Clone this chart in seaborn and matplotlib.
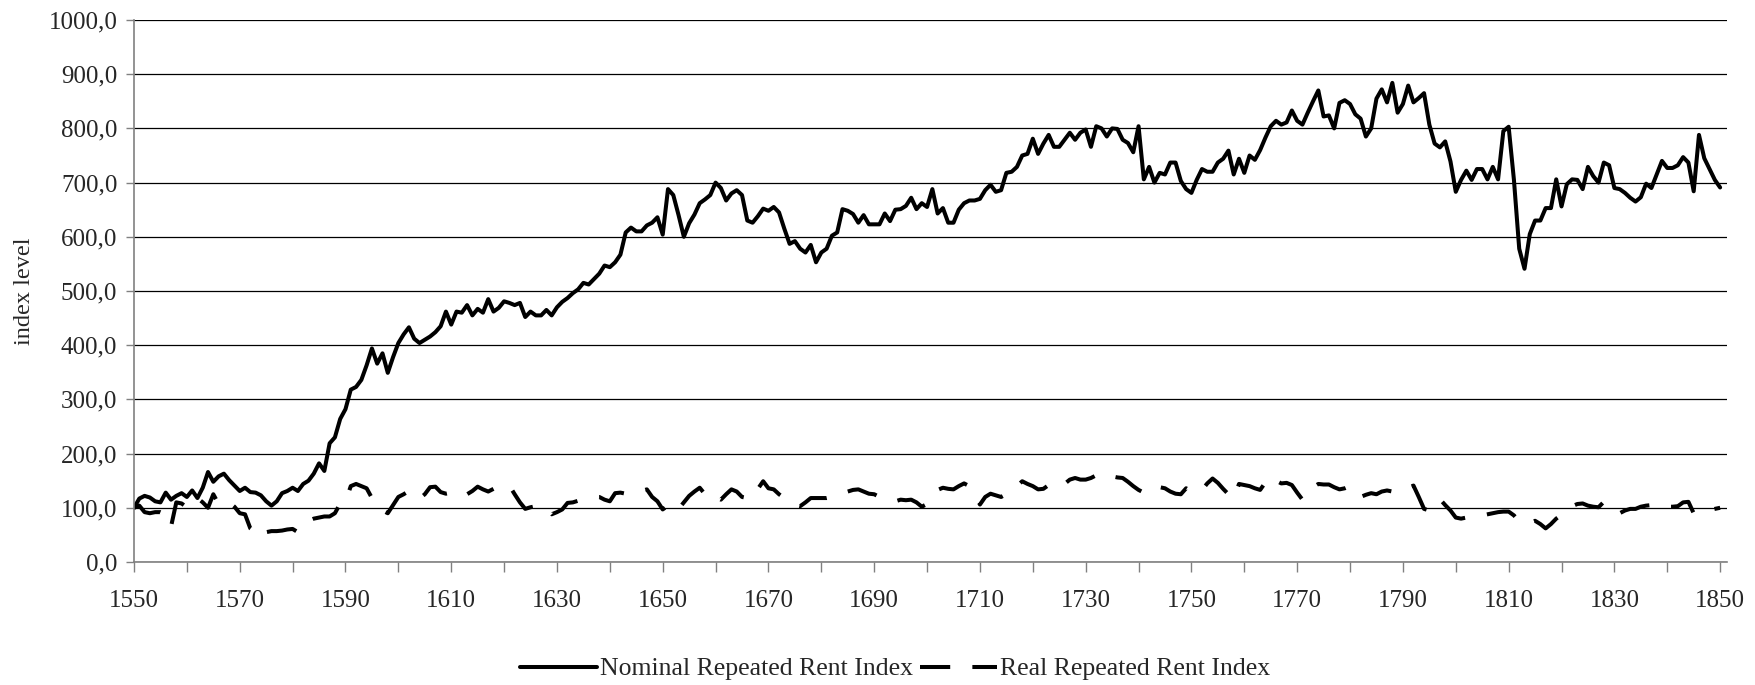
import matplotlib

matplotlib.use("Agg")
import matplotlib.pyplot as plt
import numpy as np
import pandas as pd
import seaborn as sns
from matplotlib.ticker import FixedLocator, FuncFormatter, MultipleLocator

# yearly index levels, 1550 = 100
years = list(range(1550, 1851))

nominal = [
    100, 117, 122, 119, 112, 110, 128, 115, 122, 127,
    120, 132, 118, 137, 166, 148, 158, 163, 151, 141,
    131, 137, 129, 128, 123, 112, 104, 112, 127, 131,
    137, 131, 144, 150, 163, 182, 168, 219, 230, 264,
    282, 318, 323, 336, 363, 394, 366, 385, 349, 378,
    404, 420, 433, 412, 404, 410, 416, 424, 435, 462,
    438, 462, 460, 474, 455, 467, 460, 485, 462, 469,
    481, 478, 474, 478, 452, 462, 455, 455, 465, 455,
    470, 480, 487, 496, 503, 515, 512, 522, 532, 547,
    544, 553, 567, 608, 617, 610, 610, 621, 626, 636,
    604, 688, 677, 640, 600, 625, 641, 662, 669, 677,
    700, 690, 667, 680, 686, 677, 630, 626, 638, 652,
    648, 655, 645, 615, 587, 592, 578, 571, 585, 553,
    571, 578, 602, 608, 651, 648, 642, 626, 640, 623,
    623, 623, 643, 629, 650, 651, 657, 672, 651, 662,
    655, 688, 643, 653, 626, 626, 650, 662, 667, 667,
    670, 686, 696, 683, 686, 718, 720, 729, 750, 753,
    781, 753, 772, 788, 766, 766, 779, 792, 779, 792,
    798, 766, 804, 800, 785, 800, 799, 779, 773, 756,
    804, 706, 729, 700, 718, 715, 737, 737, 703, 688,
    681, 705, 725, 720, 720, 737, 744, 759, 715, 744,
    718, 750, 742, 760, 783, 804, 814, 807, 811, 833,
    814, 807, 829, 850, 870, 822, 824, 800, 847, 852,
    845, 826, 818, 785, 800, 855, 872, 848, 884, 829,
    845, 879, 848, 856, 865, 807, 772, 765, 776, 739,
    683, 705, 722, 705, 725, 725, 706, 729, 706, 795,
    803, 705, 578, 541, 605, 630, 630, 653, 653, 706,
    656, 697, 706, 705, 688, 729, 712, 700, 737, 732,
    690, 688, 681, 672, 665, 673, 698, 690, 715, 740,
    727, 727, 732, 747, 737, 684, 788, 745, 725, 705,
    691,
]

real = [
    100, 104, 92, 90, 92, 92, 88, 65, 110, 108,
    101, 112, 118, 110, 100, 125, 107, 110, 110, 102,
    90, 88, 62, 55, 45, 55, 57, 57, 58, 60,
    61, 55, 68, 76, 80, 82, 84, 84, 90, 108,
    111, 140, 144, 140, 136, 118, 105, 95, 90, 105,
    120, 125, 131, 120, 117, 125, 138, 139, 129, 126,
    128, 131, 124, 125, 131, 139, 134, 130, 135, 136,
    138, 141, 125, 110, 98, 101, 103, 104, 98, 88,
    92, 97, 109, 110, 113, 116, 118, 120, 120, 115,
    112, 127, 128, 126, 125, 128, 131, 134, 120, 112,
    97, 104, 108, 98, 110, 122, 130, 137, 125, 115,
    120, 115, 125, 134, 130, 120, 118, 117, 135, 149,
    136, 134, 125, 118, 110, 105, 103, 110, 118, 118,
    118, 118, 120, 122, 125, 130, 133, 134, 130, 126,
    125, 120, 118, 117, 112, 115, 114, 115, 110, 102,
    107, 126, 133, 137, 135, 134, 140, 145, 140, 125,
    106, 120, 126, 123, 120, 125, 135, 140, 149, 144,
    140, 134, 135, 142, 149, 147, 144, 152, 155, 152,
    152, 155, 160, 164, 162, 158, 156, 155, 148, 140,
    133, 128, 138, 137, 138, 136, 130, 126, 125, 136,
    130, 128, 133, 145, 154, 146, 135, 125, 117, 144,
    142, 140, 136, 133, 147, 158, 150, 145, 146, 142,
    128, 115, 128, 138, 144, 143, 143, 138, 134, 136,
    140, 132, 120, 124, 127, 125, 130, 132, 130, 127,
    132, 137, 141, 120, 98, 95, 107, 116, 105, 95,
    82, 80, 82, 84, 84, 86, 88, 90, 92, 93,
    93, 86, 75, 70, 72, 76, 70, 62, 70, 80,
    87, 99, 103, 107, 108, 104, 102, 101, 111, 103,
    97, 90, 95, 98, 98, 102, 104, 105, 102, 100,
    102, 102, 103, 110, 111, 90, 92, 94, 96, 98,
    100,
]

series_names = ["Nominal Repeated Rent Index", "Real Repeated Rent Index"]
year_labels = list(range(1550, 1851, 20))

assert len(nominal) == len(years) and len(real) == len(years)

sns.set_theme(style="white")
plt.rcParams["font.family"] = ["Liberation Serif", "DejaVu Serif"]
plt.rcParams["font.size"] = 18

df = pd.DataFrame({"year": years, "nominal": nominal, "real": real})

fig, ax = plt.subplots(figsize=(17.55, 6.85), dpi=100)
fig.subplots_adjust(left=134 / 1755, right=1727 / 1755, bottom=1 - 562 / 685, top=1 - 20 / 685)

sns.lineplot(data=df, x="year", y="nominal", ax=ax, color="black", linewidth=2.9,
             solid_joinstyle="round", label=series_names[0])
sns.lineplot(data=df, x="year", y="real", ax=ax, color="black", linewidth=2.9,
             linestyle=(0, (7.5, 5.5)), dash_capstyle="butt", dash_joinstyle="round",
             label=series_names[1])

ax.set_xlim(1550, 1851.3)
ax.set_ylim(0, 1000)
ax.yaxis.set_major_locator(MultipleLocator(100))
ax.yaxis.set_major_formatter(FuncFormatter(lambda v, pos: "{0:.1f}".format(v).replace(".", ",")))
ax.xaxis.set_major_locator(FixedLocator(year_labels))
ax.xaxis.set_minor_locator(MultipleLocator(10))
ax.xaxis.set_major_formatter(FuncFormatter(lambda v, pos: "{0:d}".format(int(round(v)))))

ax.grid(axis="y", color="black", linewidth=0.9)
ax.grid(axis="x", visible=False)
ax.set_axisbelow(True)

for side in ["top", "right"]:
    ax.spines[side].set_visible(False)
for side in ["left", "bottom"]:
    ax.spines[side].set_color("#808080")
    ax.spines[side].set_linewidth(1.2)

ax.tick_params(axis="x", which="both", direction="out", length=7, width=1, color="#808080",
               bottom=True, labelsize=18, pad=13)
ax.tick_params(axis="y", which="major", direction="out", length=6, width=1, color="#808080",
               left=True, labelsize=18, pad=6)

ax.set_xlabel("")
ax.set_ylabel("index level", fontsize=17.5)
ax.yaxis.set_label_coords(-0.062, 0.5)

handles, labels = ax.get_legend_handles_labels()
ax.get_legend().remove()
fig.legend(handles, labels, loc="center", bbox_to_anchor=(0.51, 1 - 669 / 685), ncol=2,
           frameon=False, handlelength=3.0, handletextpad=0.1, columnspacing=0.3,
           fontsize=18.5)

fig.savefig("out.png", dpi=100)
